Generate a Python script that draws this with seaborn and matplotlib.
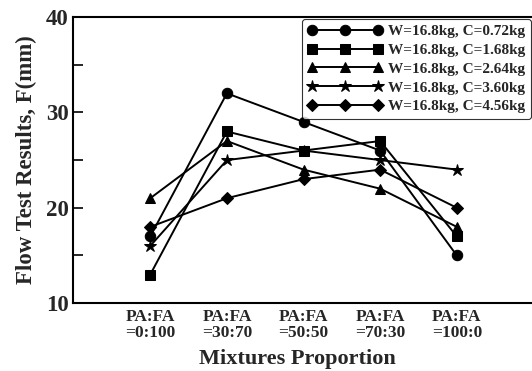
import numpy as np
import pandas as pd
import seaborn as sns
import matplotlib.pyplot as plt
from matplotlib.ticker import MultipleLocator

# 数据
mixtures = ["PA:FA\n=0:100", "PA:FA\n=30:70", "PA:FA\n=50:50", "PA:FA\n=70:30", "PA:FA\n=100:0"]
series_names = ["W=16.8kg, C=0.72kg", "W=16.8kg, C=1.68kg", "W=16.8kg, C=2.64kg",
                "W=16.8kg, C=3.60kg", "W=16.8kg, C=4.56kg"]
c072 = [17, 32, 29, 26, 15]
c168 = [13, 28, 26, 27, 17]
c264 = [21, 27, 24, 22, 18]
c360 = [16, 25, 26, 25, 24]
c456 = [18, 21, 23, 24, 20]
all_values = [c072, c168, c264, c360, c456]
markers = ["o", "s", "^", "*", "D"]
msizes = [7.5, 7.5, 7.5, 9, 6.5]

rows = []
for name, vals in zip(series_names, all_values):
    for i, v in enumerate(vals):
        rows.append({"series": name, "pos": i, "F": v})
df = pd.DataFrame(rows)

sns.set_theme(style="white")
plt.rcParams['font.family'] = ['Liberation Serif', 'DejaVu Serif']
plt.rcParams['font.weight'] = 'bold'

fig = plt.figure(figsize=(5.32, 3.71), dpi=100)
ax = fig.add_axes([0.137, 0.183, 0.88, 0.771])

for name, m, ms in zip(series_names, markers, msizes):
    sub = df[df.series == name]
    sns.lineplot(data=sub, x="pos", y="F", ax=ax, color="black", marker=m,
                 markersize=ms, markeredgecolor="black", linewidth=1.4, label=name)

ax.set_xlim(-1.01, 5.1)
ax.set_ylim(10, 40)
ax.set_xticks(range(len(mixtures)))
ax.set_xticklabels(mixtures, fontsize=12.5, fontweight='bold', linespacing=1.02)
ax.set_yticks([10, 20, 30, 40])
ax.set_yticklabels(["10", "20", "30", "40"], fontsize=16.5, fontweight='bold')
ax.yaxis.set_minor_locator(MultipleLocator(5))
ax.tick_params(axis='x', direction='in', length=10, width=1.4, pad=4)
ax.tick_params(axis='y', which='both', direction='in', length=7, width=1.4, pad=3, left=True)
ax.tick_params(axis='y', which='minor', direction='in', length=7, width=1.4, left=True)

for s in ["left", "bottom", "top"]:
    ax.spines[s].set_color("black")
    ax.spines[s].set_linewidth(1.5)
ax.spines["right"].set_visible(False)

ax.set_xlabel("Mixtures Proportion", fontsize=16, fontweight='bold')
ax.xaxis.label.set_va('center')
ax.xaxis.set_label_coords(0.48, -0.196)
ax.set_ylabel("Flow Test Results, F(mm)", fontsize=16.5, fontweight='bold', labelpad=6)

leg = ax.legend(loc="upper right", bbox_to_anchor=(0.998, 0.948), bbox_transform=fig.transFigure,
                borderaxespad=0, numpoints=3, prop={'size': 11, 'weight': 'bold'},
                handlelength=4.9, handletextpad=0.4, labelspacing=0.33, borderpad=0.35,
                frameon=True, fancybox=True, edgecolor="black")
leg.get_frame().set_linewidth(0.8)

plt.savefig("out.png", dpi=100)
plt.close()
